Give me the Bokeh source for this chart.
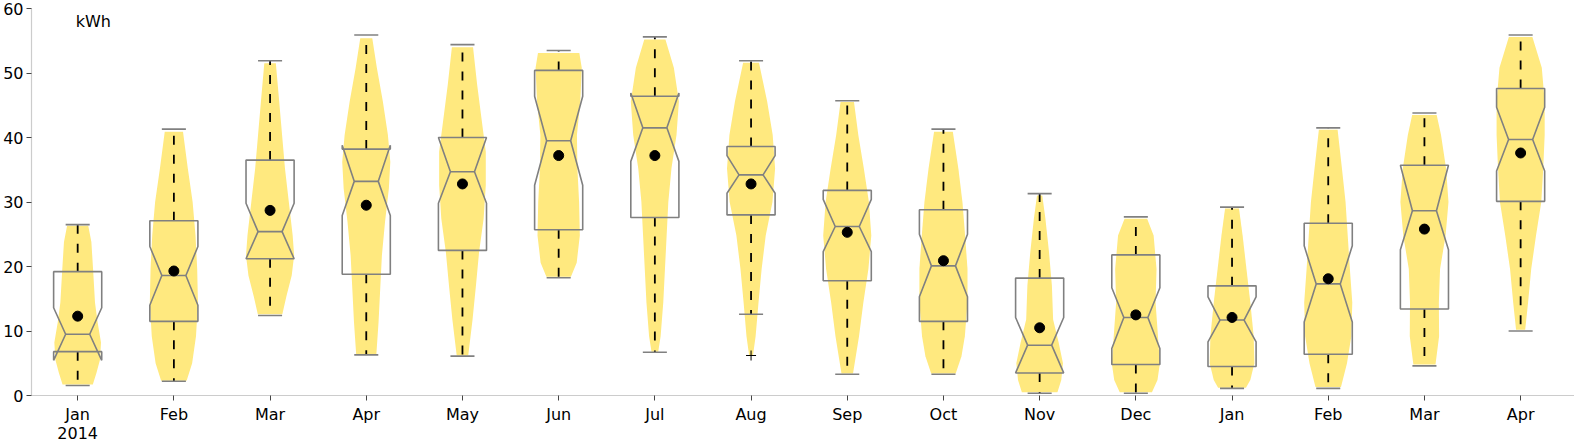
from bokeh.plotting import figure
from bokeh.models import Range1d, FixedTicker, Label, LinearAxis
from bokeh.embed import file_html
from bokeh.resources import INLINE

labels = ["Jan", "Feb", "Mar", "Apr", "May", "Jun", "Jul", "Aug",
          "Sep", "Oct", "Nov", "Dec", "Jan", "Feb", "Mar", "Apr"]
year_label = "2014"

whisker_hi = [26.5, 41.3, 51.9, 55.9, 54.4, 53.5, 55.6, 51.9, 45.7, 41.3, 31.3, 27.7, 29.2, 41.5, 43.8, 55.9]
q3 = [19.2, 27.1, 36.5, 38.2, 40.0, 50.4, 46.4, 38.6, 31.8, 28.8, 18.2, 21.8, 17.0, 26.7, 35.7, 47.6]
notch_hi = [13.6, 23.1, 29.8, 38.8, 40.0, 46.4, 46.9, 37.2, 30.4, 25.0, 12.1, 16.7, 15.3, 23.2, 35.7, 44.7]
median = [9.5, 18.6, 25.4, 33.2, 34.7, 39.5, 41.5, 34.2, 26.2, 20.1, 7.8, 12.1, 11.7, 17.3, 28.65, 39.7]
notch_lo = [5.45, 14.0, 21.2, 27.9, 29.8, 32.6, 36.3, 31.35, 22.3, 15.3, 3.5, 7.3, 8.3, 11.4, 22.6, 34.8]
q1 = [6.8, 11.5, 21.2, 18.8, 22.5, 25.7, 27.6, 28.0, 17.8, 11.5, 3.5, 4.8, 4.5, 6.4, 13.4, 30.1]
whisker_lo = [1.55, 2.2, 12.4, 6.3, 6.1, 18.25, 6.7, 12.6, 3.3, 3.3, 0.36, 0.36, 1.1, 1.1, 4.6, 10.0]
means = [12.3, 19.3, 28.7, 29.5, 32.8, 37.2, 37.2, 32.8, 25.3, 20.9, 10.5, 12.5, 12.1, 18.1, 25.8, 37.6]
outlier_month = [7]
outlier_value = [6.2]

# violin outlines: levels (kWh, top to bottom) and relative widths
viol_levels = [
    [26.3, 23.8, 19.6, 14.4, 11.3, 8.2, 5.6, 3.5, 1.7],
    [40.9, 35.2, 30.0, 24.8, 19.6, 14.4, 9.2, 5.0, 2.3],
    [51.5, 45.6, 40.4, 35.2, 30.0, 24.8, 21.7, 18.6, 15.4, 12.6],
    [55.4, 50.8, 45.6, 40.4, 36.2, 32.1, 26.9, 21.7, 16.5, 11.3, 6.4],
    [54.0, 48.2, 43.0, 37.8, 32.6, 27.4, 22.2, 17.0, 11.8, 6.2],
    [53.1, 50.8, 45.6, 40.4, 35.2, 30.0, 24.8, 20.6, 18.4],
    [55.2, 50.8, 45.6, 40.4, 35.2, 30.0, 24.8, 19.6, 14.4, 9.2, 6.8],
    [51.6, 45.6, 40.4, 35.2, 30.0, 24.8, 19.6, 14.4, 9.2, 6.2],
    [45.5, 40.4, 35.2, 30.0, 24.8, 19.6, 14.4, 9.2, 3.4],
    [40.9, 35.2, 30.0, 24.8, 19.6, 14.4, 9.2, 6.1, 3.4],
    [31.0, 27.4, 22.2, 17.0, 11.8, 8.2, 5.0, 2.4, 0.5],
    [27.4, 24.8, 19.6, 14.4, 9.2, 5.0, 2.4, 0.5],
    [29.0, 24.8, 19.6, 14.4, 9.2, 5.0, 2.4, 1.2],
    [41.2, 35.2, 30.0, 24.8, 19.6, 14.4, 9.2, 5.0, 1.3],
    [43.5, 40.4, 35.2, 30.0, 24.8, 19.6, 14.4, 9.2, 4.8],
    [55.6, 50.8, 45.6, 40.4, 35.2, 30.0, 24.8, 19.6, 14.4, 10.2],
]
viol_widths = [
    [0.44, 0.57, 0.64, 0.72, 0.83, 0.97, 0.93, 0.78, 0.63],
    [0.38, 0.58, 0.78, 0.90, 0.97, 1.00, 0.92, 0.76, 0.53],
    [0.24, 0.38, 0.50, 0.62, 0.78, 0.94, 1.00, 0.90, 0.68, 0.51],
    [0.25, 0.44, 0.69, 0.90, 1.00, 0.94, 0.78, 0.65, 0.58, 0.51, 0.42],
    [0.44, 0.61, 0.79, 0.97, 0.97, 0.88, 0.69, 0.56, 0.42, 0.24],
    [0.86, 0.96, 0.90, 0.76, 0.78, 0.85, 0.88, 0.75, 0.51],
    [0.44, 0.79, 1.00, 0.90, 0.69, 0.56, 0.49, 0.42, 0.35, 0.24, 0.14],
    [0.33, 0.67, 0.90, 1.00, 0.89, 0.61, 0.44, 0.31, 0.19, 0.08],
    [0.28, 0.46, 0.69, 0.90, 1.00, 0.88, 0.67, 0.49, 0.24],
    [0.39, 0.62, 0.79, 0.90, 1.00, 1.00, 0.89, 0.75, 0.51],
    [0.11, 0.24, 0.39, 0.51, 0.56, 0.79, 0.97, 0.90, 0.74],
    [0.47, 0.74, 0.86, 0.82, 0.92, 1.00, 0.90, 0.67],
    [0.29, 0.44, 0.60, 0.76, 0.90, 0.93, 0.76, 0.58],
    [0.39, 0.57, 0.72, 0.81, 0.90, 1.00, 0.96, 0.78, 0.53],
    [0.51, 0.69, 0.90, 1.00, 0.88, 0.65, 0.60, 0.61, 0.46],
    [0.49, 0.88, 1.00, 1.00, 0.94, 0.86, 0.64, 0.44, 0.31, 0.19],
]

HALF = 0.25      # half box width / max violin half width (category units)
WAIST = 0.125    # notch waist half width
CAP = 0.125      # whisker cap half width
GREY = "#808080"
YELLOW = "#ffe97f"

n = len(labels)
xs_idx = list(range(n))

p = figure(width=1574, height=441, output_backend="svg", toolbar_location=None,
           x_range=Range1d(-0.48, 15.56), y_range=Range1d(0, 60),
           min_border_left=22, min_border_right=0, min_border_top=8, min_border_bottom=20)
p.outline_line_color = None
p.xgrid.visible = False
p.ygrid.visible = False
p.background_fill_color = "white"

# violins
vx, vy = [], []
for i in xs_idx:
    lv, wd = viol_levels[i], viol_widths[i]
    left = [i - w * HALF for w in wd]
    right = [i + w * HALF for w in wd][::-1]
    vx.append(left + right)
    vy.append(lv + lv[::-1])
p.patches(vx, vy, fill_color=YELLOW, line_color=None)

# whiskers (dashed)
p.segment(x0=xs_idx, y0=q3, x1=xs_idx, y1=whisker_hi, line_color="black",
          line_width=1.8, line_dash="9 10")
p.segment(x0=xs_idx, y0=q1, x1=xs_idx, y1=whisker_lo, line_color="black",
          line_width=1.8, line_dash="9 10")

# caps
p.segment(x0=[i - CAP for i in xs_idx], y0=whisker_hi, x1=[i + CAP for i in xs_idx],
          y1=whisker_hi, line_color=GREY, line_width=1.6)
p.segment(x0=[i - CAP for i in xs_idx], y0=whisker_lo, x1=[i + CAP for i in xs_idx],
          y1=whisker_lo, line_color=GREY, line_width=1.6)

# notched boxes
bx, by = [], []
for i in xs_idx:
    L, R = i - HALF, i + HALF
    bx.append([L, L, i - WAIST, L, L, R, R, i + WAIST, R, R])
    by.append([q1[i], notch_lo[i], median[i], notch_hi[i], q3[i],
               q3[i], notch_hi[i], median[i], notch_lo[i], q1[i]])
p.patches(bx, by, fill_alpha=0, line_color=GREY, line_width=1.6)
p.segment(x0=[i - WAIST for i in xs_idx], y0=median, x1=[i + WAIST for i in xs_idx],
          y1=median, line_color=GREY, line_width=1.6)

# means
p.scatter(xs_idx, means, size=10, color="black")
# outliers
p.scatter(outlier_month, outlier_value, marker="cross", size=10, line_color="black",
          line_width=1)

# axes
p.xaxis.ticker = FixedTicker(ticks=xs_idx)
p.xaxis.major_label_overrides = {i: labels[i] for i in xs_idx}
p.yaxis.ticker = FixedTicker(ticks=[0, 10, 20, 30, 40, 50, 60])
for ax in (p.xaxis[0], p.yaxis[0]):
    ax.axis_line_color = "#cccccc"
    ax.axis_line_width = 1.2
    ax.major_tick_line_color = "#444444"
    ax.major_tick_out = 5
    ax.major_tick_in = 0
    ax.minor_tick_line_color = None
    ax.major_label_text_font = "DejaVu Sans"
    ax.major_label_text_font_size = "16px"
    ax.major_label_text_color = "black"
p.xaxis.major_label_standoff = 4
p.yaxis.major_label_standoff = 3

# second line of the first tick label (the year)
year_axis = LinearAxis(ticker=FixedTicker(ticks=[0]), major_label_overrides={0: year_label},
                       axis_line_color=None, major_tick_line_color=None,
                       minor_tick_line_color=None, major_label_standoff=0,
                       major_tick_out=0, major_tick_in=0,
                       major_label_text_font="DejaVu Sans",
                       major_label_text_font_size="16px", major_label_text_color="black")
p.add_layout(year_axis, "below")

p.add_layout(Label(x=-0.02, y=59.4, text="kWh", text_baseline="top", text_align="left",
                   text_font="DejaVu Sans", text_font_size="16px", text_color="black"))

open("out.html", "w").write(file_html(p, INLINE))
